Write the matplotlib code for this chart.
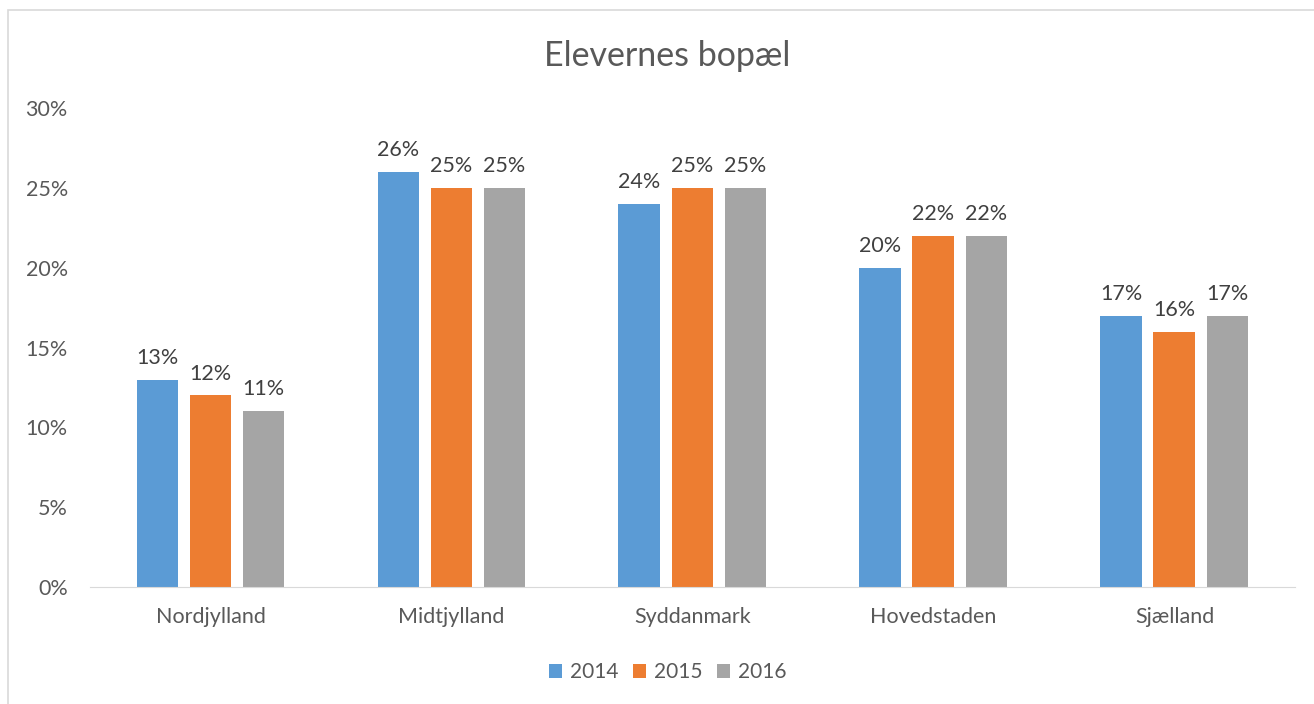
import numpy as np
import matplotlib.pyplot as plt
from matplotlib.patches import Rectangle

plt.rcParams['font.family'] = ['Lato', 'DejaVu Sans']

regions = ['Nordjylland', 'Midtjylland', 'Syddanmark', 'Hovedstaden', 'Sjælland']
years = ['2014', '2015', '2016']
v2014 = [13, 26, 24, 20, 17]
v2015 = [12, 25, 25, 22, 16]
v2016 = [11, 25, 25, 22, 17]
colors = ['#5B9BD5', '#ED7D31', '#A5A5A5']

fig = plt.figure(figsize=(13.14, 7.04), dpi=100)
ax = fig.add_axes([0.0685, 0.166, 0.917, 0.6806])

# light border around the whole chart
fig.patches.append(Rectangle((0.006, -0.01), 1.2, 0.996, transform=fig.transFigure,
                             fill=False, edgecolor='#D9D9D9', linewidth=1.2))

x = np.arange(len(regions))
width = 0.174
step = 0.22
for i, (vals, yr) in enumerate(zip([v2014, v2015, v2016], years)):
    bars = ax.bar(x + (i - 1) * step, vals, width, color=colors[i], label=yr)
    for b, v in zip(bars, vals):
        ax.text(b.get_x() + b.get_width() / 2, v + 0.75, f'{v}%', ha='center',
                va='bottom', fontsize=15.5, color='#404040')

ax.set_xlim(-0.5, len(regions) - 0.5)
ax.set_ylim(0, 30)
ax.set_yticks(range(0, 31, 5))
ax.set_yticklabels([f'{t}%' for t in range(0, 31, 5)])
ax.set_xticks(x)
ax.set_xticklabels(regions)
ax.tick_params(axis='both', length=0, labelsize=15.5, labelcolor='#595959')
ax.tick_params(axis='y', pad=16)
ax.tick_params(axis='x', pad=14)
for s in ['top', 'right', 'left']:
    ax.spines[s].set_visible(False)
ax.spines['bottom'].set_color('#D9D9D9')

fig.text(0.508, 0.92, 'Elevernes bopæl', ha='center', va='center',
         fontsize=24.5, color='#595959')

leg = fig.legend(loc='center', bbox_to_anchor=(0.508, 0.045), ncol=3, frameon=False,
                 fontsize=15, handlelength=0.65, handleheight=0.65, columnspacing=0.7,
                 handletextpad=0.35)
for t in leg.get_texts():
    t.set_color('#595959')

fig.savefig('out.png', dpi=100)
